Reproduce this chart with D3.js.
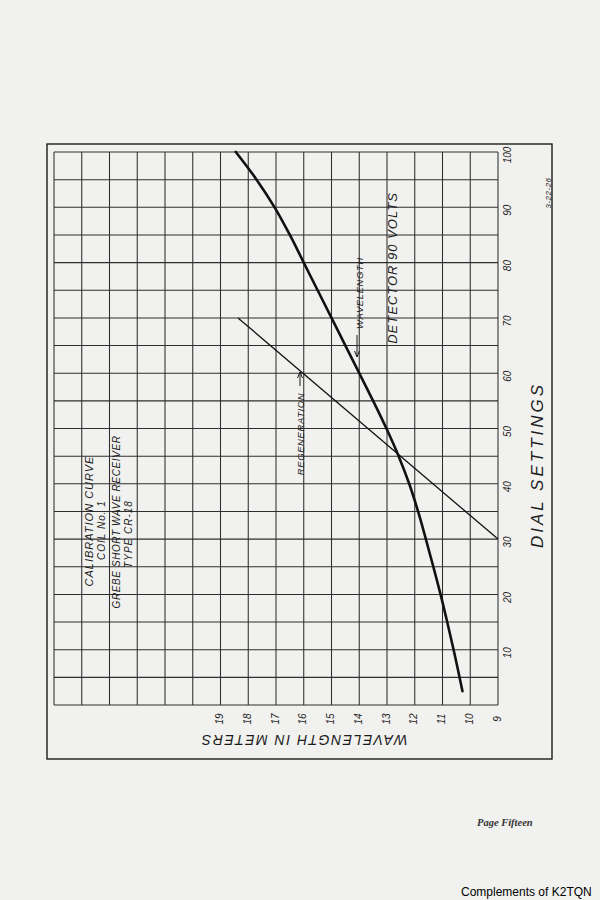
<!DOCTYPE html>
<html>
<head>
<meta charset="utf-8">
<script src="https://cdn.jsdelivr.net/npm/d3@7/dist/d3.min.js"></script>
<style>
  html, body { margin: 0; padding: 0; background: #f1f1ef; }
  svg { display: block; }
</style>
</head>
<body>
<svg id="chart" width="600" height="900"></svg>
<script>
// ---- data (dial setting vs wavelength in meters) ----
const dialTicks = [10, 20, 30, 40, 50, 60, 70, 80, 90, 100];
const wavelengthTicks = [19, 18, 17, 16, 15, 14, 13, 12, 11, 10, 9];
const wavelengthDial = [100, 95, 90, 85, 80, 75, 70, 65, 60, 55, 50, 45, 40, 35, 30, 25, 20, 15, 10, 2.5];
const wavelengthMeters = [18.45, 17.7, 17.05, 16.5, 16.0, 15.5, 15.0, 14.5, 14.0, 13.5, 13.02, 12.58, 12.2, 11.88, 11.6, 11.33, 11.07, 10.83, 10.6, 10.28];
const regenerationDial = [70, 30];
const regenerationMeters = [18.37, 9.0];

const svg = d3.select("#chart");
const ink = "#1c1c1c";
const hand = "'Liberation Sans', 'DejaVu Sans', sans-serif";

// scales: wavelength runs right-to-left horizontally, dial runs bottom-to-top
const x = d3.scaleLinear().domain([25, 9]).range([54, 498]);
const y = d3.scaleLinear().domain([0, 100]).range([705, 152]);

// outer frame
svg.append("rect")
  .attr("x", 47).attr("y", 144).attr("width", 505).attr("height", 615)
  .attr("fill", "none").attr("stroke", ink).attr("stroke-width", 1.4);

// grid
const grid = svg.append("g").attr("stroke", "#2e2e2e").attr("stroke-width", 1.05);
grid.selectAll("line.v").data(d3.range(9, 26)).join("line")
  .attr("x1", d => x(d)).attr("x2", d => x(d))
  .attr("y1", y(0)).attr("y2", y(100));
grid.selectAll("line.h").data(d3.range(0, 101, 5)).join("line")
  .attr("x1", x(25)).attr("x2", x(9))
  .attr("y1", d => y(d)).attr("y2", d => y(d));

// rotated text helper
function rtext(txt, cx, cy, size, opts = {}) {
  return svg.append("text")
    .attr("transform", `translate(${cx},${cy}) rotate(${opts.rot ?? -90})`)
    .attr("text-anchor", opts.anchor || "middle")
    .attr("dominant-baseline", "central")
    .attr("font-family", opts.family || hand)
    .attr("font-style", opts.style || "italic")
    .attr("font-size", size)
    .attr("letter-spacing", opts.ls || 0)
    .attr("fill", opts.fill || ink)
    .text(txt);
}

// dial tick labels (right side)
dialTicks.forEach(d => rtext(String(d), 507, y(d) + 3, 10));
// wavelength tick labels (bottom)
wavelengthTicks.forEach(d => rtext(String(d), x(d) - 1, 719, 10));

// axis titles
rtext("DIAL   SETTINGS", 537, 465, 17, { ls: 3 });
rtext("WAVELENGTH IN METERS", 304, 740, 14, { rot: 180, ls: 1.5 });

// notes
rtext("CALIBRATION  CURVE", 89, 521, 11, { ls: 1 });
rtext("COIL No. 1", 101, 530, 10, { ls: 1 });
rtext("GREBE  SHORT WAVE RECEIVER", 116, 522, 10, { ls: 0.6 });
rtext("TYPE CR-18", 128, 534, 10, { ls: 1 });
rtext("DETECTOR  90 VOLTS", 392, 268, 13, { ls: 1 });
rtext("3-22-26", 548, 193, 8, { ls: 0.5 });

// curves
const line = d3.line().x(d => x(d[1])).y(d => y(d[0])).curve(d3.curveMonotoneY);
svg.append("path")
  .datum(wavelengthDial.map((d, i) => [d, wavelengthMeters[i]]))
  .attr("d", line).attr("fill", "none").attr("stroke", "#111").attr("stroke-width", 2.6)
  .attr("stroke-linecap", "round");
svg.append("path")
  .datum(regenerationDial.map((d, i) => [d, regenerationMeters[i]]))
  .attr("d", d3.line().x(d => x(d[1])).y(d => y(d[0])))
  .attr("fill", "none").attr("stroke", "#111").attr("stroke-width", 1.3);

// curve labels with arrows
rtext("WAVELENGTH", 359, 293, 9.5, { ls: 0.6 });
svg.append("path").attr("d", "M357,335 L357,357 M354.5,351 L357,357 L359.5,351")
  .attr("fill", "none").attr("stroke", ink).attr("stroke-width", 1);
rtext("REGENERATION", 300, 434, 9.5, { ls: 0.6 });
svg.append("path").attr("d", "M300,386 L300,372 M297.5,378 L300,372 L302.5,378")
  .attr("fill", "none").attr("stroke", ink).attr("stroke-width", 1);

// page footer
svg.append("text").attr("x", 477).attr("y", 826)
  .attr("font-family", "'Liberation Serif', 'DejaVu Serif', serif")
  .attr("font-style", "italic").attr("font-weight", "bold")
  .attr("font-size", 10.5).attr("fill", "#333").text("Page Fifteen");
svg.append("text").attr("x", 461).attr("y", 896)
  .attr("font-family", "'Liberation Sans', Arial, sans-serif")
  .attr("font-size", 12).attr("fill", "#000").text("Complements of K2TQN");
</script>
</body>
</html>
